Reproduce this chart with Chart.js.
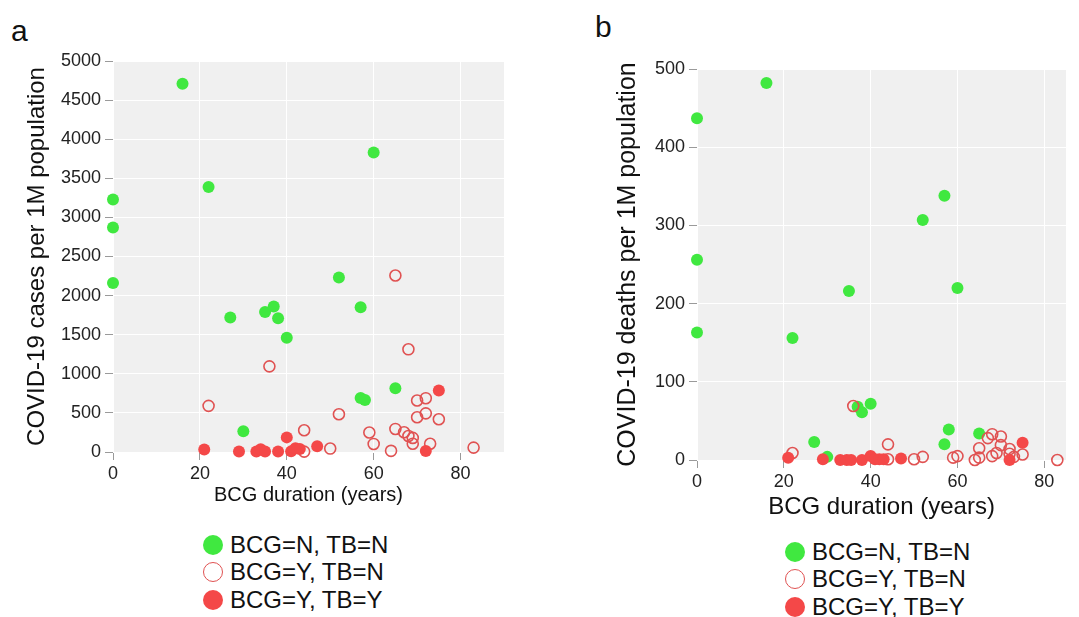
<!DOCTYPE html>
<html>
<head>
<meta charset="utf-8">
<script src="https://cdn.jsdelivr.net/npm/chart.js@4.4.1/dist/chart.umd.min.js"></script>
<style>
  body { margin: 0; width: 1079px; height: 617px; background: #fff; position: relative; overflow: hidden;
         font-family: "Liberation Sans", Arial, sans-serif; color: #111; }
  canvas { position: absolute; top: 0; }
  .tag { position: absolute; font-size: 30px; line-height: 30px; }
  .legend { position: absolute; font-size: 24px; }
  .legend div { display: flex; align-items: center; height: 27.5px; white-space: nowrap; }
  .dot { display: inline-block; width: 20px; height: 20px; border-radius: 50%; box-sizing: border-box; margin-right: 7px; }
</style>
</head>
<body>
<div class="tag" style="left:11px;top:16px">a</div>
<div class="tag" style="left:595px;top:12px">b</div>
<canvas id="casesChart" width="540" height="520" style="left:0"></canvas>
<canvas id="deathsChart" width="539" height="530" style="left:540px"></canvas>
<div class="legend" id="legendA" style="left:203px;top:531px"></div>
<div class="legend" id="legendB" style="left:785px;top:538px"></div>
<script>
// series names + colours
const seriesLabels = ["BCG=N, TB=N", "BCG=Y, TB=N", "BCG=Y, TB=Y"];
const GREEN = "#40e840", RED = "#f44848", RING = "#e05252";

const xTicks = [0, 20, 40, 60, 80];
const casesTicks = [0, 500, 1000, 1500, 2000, 2500, 3000, 3500, 4000, 4500, 5000];
const deathsTicks = [0, 100, 200, 300, 400, 500];

// panel a : cases per 1M
const casesGreenX = [0, 0, 0, 16, 22, 27, 30, 35, 37, 38, 40, 52, 57, 57, 58, 60, 65];
const casesGreenY = [3230, 2870, 2160, 4710, 3390, 1720, 265, 1790, 1860, 1710, 1460, 2230, 1850, 690, 665, 3830, 815];
const casesOpenX = [22, 36, 44, 44, 50, 52, 59, 60, 64, 65, 65, 67, 68, 68, 69, 69, 70, 70, 72, 72, 73, 75, 83];
const casesOpenY = [590, 1095, 278, 5, 44, 483, 250, 103, 15, 2257, 295, 253, 1313, 205, 180, 105, 659, 445, 688, 494, 105, 419, 56];
const casesFillX = [21, 29, 33, 34, 35, 38, 40, 41, 42, 43, 47, 72, 75];
const casesFillY = [31, 5, 5, 35, 5, 5, 187, 8, 48, 38, 73, 13, 787];

// panel b : deaths per 1M
const deathsGreenX = [0, 0, 0, 16, 22, 27, 30, 35, 37, 38, 40, 52, 57, 57, 58, 60, 65];
const deathsGreenY = [437, 256, 163, 482, 156, 23, 4, 216, 68, 61, 72, 307, 338, 20, 39, 220, 34];
const deathsOpenX = [22, 36, 44, 44, 50, 52, 59, 60, 64, 65, 65, 67, 68, 68, 69, 70, 70, 72, 72, 73, 75, 83];
const deathsOpenY = [9, 69, 20, 1, 1, 4, 3, 5, 0, 3, 15, 28, 33, 5, 9, 30, 19, 14, 8, 4, 7, 0];
const deathsFillX = [21, 29, 33, 34.5, 35.5, 38, 40, 41, 42, 43, 47, 72, 75];
const deathsFillY = [3, 1, 0, 0, 0, 0, 5, 1, 1, 1, 2, 0, 22];

const FONT = "'Liberation Sans', Arial, sans-serif";
const pts = (xs, ys) => xs.map((x, i) => ({ x: x, y: ys[i] }));

// grey panel behind the points
const plotBg = {
  id: "plotBg",
  beforeDraw(chart) {
    const { ctx, chartArea: a } = chart;
    ctx.save();
    ctx.fillStyle = "#f0f0f0";
    ctx.fillRect(a.left, a.top, a.right - a.left, a.bottom - a.top);
    ctx.restore();
  }
};

function makePanel(id, o) {
  return new Chart(document.getElementById(id), {
    type: "scatter",
    data: {
      datasets: [
        { label: seriesLabels[0], data: pts(o.gx, o.gy), pointRadius: 6, pointHoverRadius: 6,
          backgroundColor: GREEN, borderColor: GREEN, borderWidth: 0, order: 2, clip: false },
        { label: seriesLabels[1], data: pts(o.ox, o.oy), pointRadius: 5.5, pointHoverRadius: 5.5,
          backgroundColor: "rgba(0,0,0,0)", borderColor: RING, borderWidth: 1.6, order: 1, clip: false },
        { label: seriesLabels[2], data: pts(o.fx, o.fy), pointRadius: 6, pointHoverRadius: 6,
          backgroundColor: RED, borderColor: RED, borderWidth: 0, order: 0, clip: false }
      ]
    },
    options: {
      responsive: false,
      animation: false,
      layout: { padding: o.pad },
      plugins: { legend: { display: false }, tooltip: { enabled: false } },
      scales: {
        x: {
          type: "linear", min: 0, max: o.xMax,
          afterBuildTicks: s => { s.ticks = xTicks.map(v => ({ value: v })); },
          afterFit: s => { s.height = o.xAxisH; },
          grid: { color: "#ffffff", lineWidth: 1, tickLength: 8, tickColor: "#9a9a9a" },
          border: { display: false },
          ticks: { color: "#222", padding: 3, font: { family: FONT, size: o.tickSize },
                   callback: v => String(v) },
          title: { display: true, text: "BCG duration (years)", color: "#111",
                   font: { family: FONT, size: o.xTitleSize }, padding: { bottom: o.xTitlePad, top: 0 } }
        },
        y: {
          type: "linear", min: 0, max: o.yTicks[o.yTicks.length - 1],
          afterBuildTicks: s => { s.ticks = o.yTicks.map(v => ({ value: v })); },
          afterFit: s => { s.width = o.yAxisW; },
          grid: { color: "#ffffff", lineWidth: 1, tickLength: 8, tickColor: "#9a9a9a" },
          border: { display: false },
          ticks: { color: "#222", padding: 4, font: { family: FONT, size: o.tickSize },
                   callback: v => String(v) },
          title: { display: true, text: o.yTitle, color: "#111",
                   font: { family: FONT, size: o.yTitleSize }, padding: { top: o.yTitlePad, bottom: 0 } }
        }
      }
    },
    plugins: [plotBg]
  });
}

makePanel("casesChart", {
  gx: casesGreenX, gy: casesGreenY, ox: casesOpenX, oy: casesOpenY, fx: casesFillX, fy: casesFillY,
  yTicks: casesTicks, xMax: 90, yTitle: "COVID-19 cases per 1M population",
  pad: { top: 61, right: 36, left: 0, bottom: 0 }, yAxisW: 113, xAxisH: 68,
  tickSize: 18, xTitleSize: 20, xTitlePad: 13, yTitleSize: 24, yTitlePad: 23
});

makePanel("deathsChart", {
  gx: deathsGreenX, gy: deathsGreenY, ox: deathsOpenX, oy: deathsOpenY, fx: deathsFillX, fy: deathsFillY,
  yTicks: deathsTicks, xMax: 85, yTitle: "COVID-19 deaths per 1M population",
  pad: { top: 69, right: 13, left: 0, bottom: 0 }, yAxisW: 157, xAxisH: 70,
  tickSize: 18, xTitleSize: 24, xTitlePad: 8, yTitleSize: 25, yTitlePad: 73
});

// html legends, one row per series
function buildLegend(id) {
  const styles = [
    "background:" + GREEN,
    "border:1.6px solid " + RING + ";background:transparent",
    "background:" + RED
  ];
  document.getElementById(id).innerHTML = seriesLabels
    .map((t, i) => '<div><span class="dot" style="' + styles[i] + '"></span>' + t + "</div>")
    .join("");
}
buildLegend("legendA");
buildLegend("legendB");
</script>
</body>
</html>
